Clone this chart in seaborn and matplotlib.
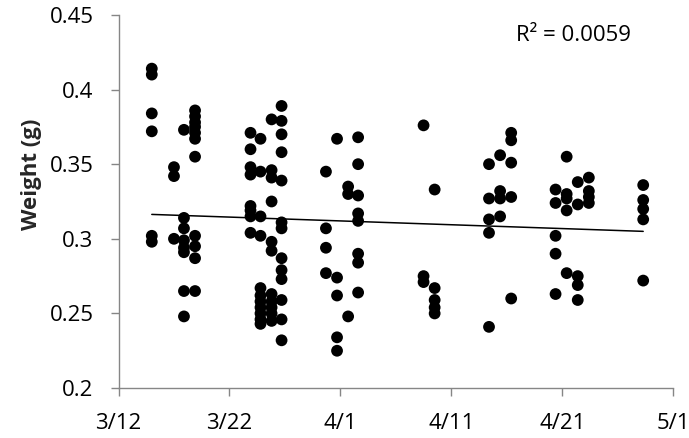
import numpy as np
import pandas as pd
import matplotlib
matplotlib.use("Agg")
import matplotlib.pyplot as plt
import seaborn as sns

# Sampling dates as days after 3/12
sample_days = [3.0, 5.0, 5.9, 6.9, 11.9, 12.8, 13.8, 14.7,
               18.7, 19.7, 20.7, 21.6, 27.5, 28.5, 33.4, 34.4, 35.4,
               39.4, 40.4, 41.4, 42.4, 47.3]

w_0315 = [0.414, 0.410, 0.384, 0.372, 0.302, 0.298]
w_0317 = [0.348, 0.342, 0.300]
w_0318 = [0.373, 0.314, 0.307, 0.299, 0.294, 0.291, 0.265, 0.248]
w_0319 = [0.386, 0.382, 0.378, 0.375, 0.371, 0.367, 0.355, 0.302, 0.295, 0.287, 0.265]
w_0324 = [0.371, 0.360, 0.348, 0.343, 0.322, 0.319, 0.315, 0.304]
w_0325 = [0.367, 0.345, 0.315, 0.302, 0.267, 0.262, 0.258, 0.254, 0.250, 0.246, 0.243]
w_0326 = [0.380, 0.346, 0.341, 0.325, 0.298, 0.292, 0.263, 0.258, 0.254, 0.250, 0.245]
w_0327 = [0.389, 0.379, 0.370, 0.358, 0.339, 0.311, 0.307, 0.287, 0.279, 0.273, 0.259, 0.246, 0.232]
w_0331 = [0.345, 0.307, 0.294, 0.277]
w_0401 = [0.367, 0.274, 0.262, 0.234, 0.225]
w_0402 = [0.335, 0.330, 0.248]
w_0403 = [0.368, 0.350, 0.329, 0.317, 0.312, 0.290, 0.284, 0.264]
w_0409 = [0.376, 0.275, 0.271]
w_0410 = [0.333, 0.267, 0.259, 0.254, 0.250]
w_0415 = [0.350, 0.327, 0.313, 0.304, 0.241]
w_0416 = [0.356, 0.332, 0.327, 0.315]
w_0417 = [0.371, 0.366, 0.351, 0.328, 0.260]
w_0420 = [0.333, 0.324, 0.302, 0.290, 0.263]
w_0421 = [0.355, 0.330, 0.327, 0.319, 0.277]
w_0422 = [0.338, 0.323, 0.275, 0.269, 0.259]
w_0423 = [0.341, 0.332, 0.328, 0.324]
w_0428 = [0.336, 0.326, 0.320, 0.313, 0.272]

weights_by_day = [w_0315, w_0317, w_0318, w_0319, w_0324, w_0325, w_0326, w_0327,
                  w_0331, w_0401, w_0402, w_0403, w_0409, w_0410, w_0415, w_0416,
                  w_0417, w_0420, w_0421, w_0422, w_0423, w_0428]

x_tick_days = [0, 10, 20, 30, 40, 50]
x_tick_labels = ["3/12", "3/22", "4/1", "4/11", "4/21", "5/1"]
y_ticks = [0.2, 0.25, 0.3, 0.35, 0.4, 0.45]
y_tick_labels = ["0.2", "0.25", "0.3", "0.35", "0.4", "0.45"]
r2_text = "R² = 0.0059"

rows = []
for d, ws in zip(sample_days, weights_by_day):
    for w in ws:
        rows.append((d, w))
df = pd.DataFrame(rows, columns=["day", "weight"])

sns.set_theme(style="white")
plt.rcParams['font.family'] = ['Open Sans', 'DejaVu Sans']

fig = plt.figure(figsize=(6.89, 4.38), dpi=100)
ax = fig.add_axes([0.172, 0.114, 0.805, 0.852])

sns.regplot(data=df, x="day", y="weight", scatter=False, ci=None, ax=ax,
            line_kws=dict(color="black", lw=1.1))
sns.scatterplot(data=df, x="day", y="weight", ax=ax, s=72, color="black",
                edgecolor="none", linewidth=0, zorder=3)

ax.set_xlim(0, 50)
ax.set_ylim(0.2, 0.45)
ax.set_xticks(x_tick_days)
ax.set_xticklabels(x_tick_labels)
ax.set_yticks(y_ticks)
ax.set_yticklabels(y_tick_labels)
ax.set_xlabel("")
ax.set_ylabel("Weight (g)", fontsize=16, fontweight="bold")
ax.yaxis.set_label_coords(-0.138, 0.574)

for s in ["top", "right"]:
    ax.spines[s].set_visible(False)
for s in ["left", "bottom"]:
    ax.spines[s].set_color("#868686")
    ax.spines[s].set_linewidth(1.0)
ax.tick_params(axis="both", which="major", direction="out", length=6, width=1,
               color="#868686", labelsize=16, labelcolor="black", pad=12,
               bottom=True, left=True)

ax.text(0.821, 0.944, r2_text, transform=ax.transAxes, ha="center", va="center",
        fontsize=16, color="black")

fig.savefig("out.png", dpi=100)
